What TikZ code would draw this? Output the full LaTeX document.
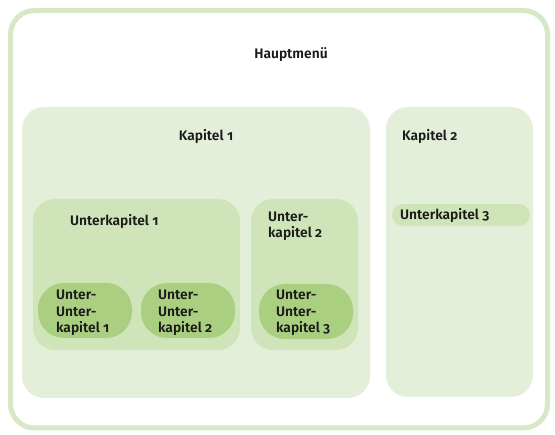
\documentclass[tikz,border=0pt]{standalone}
\usepackage{fontspec}
\setmainfont{Fira Sans}[Numbers=OldStyle,BoldFont={Fira Sans SemiBold}]
\definecolor{frame}{HTML}{D6E8C6}
\definecolor{kap}{HTML}{E4EFD9}
\definecolor{ukap}{HTML}{D0E4B9}
\definecolor{uukap}{HTML}{AACF80}
\definecolor{txt}{HTML}{1A1A1A}
\tikzset{
  box/.style={rounded corners=22pt},
  lbl/.style={anchor=west,inner sep=0pt,font=\bfseries\fontsize{13.8}{16.5}\selectfont,text=txt,align=left},
}
\begin{document}
\begin{tikzpicture}[x=1pt,y=-1pt]
\useasboundingbox (0,0) rectangle (555,435);
\fill[white] (0,0) rectangle (555,435);
\draw[frame,line width=5pt,rounded corners=24pt] (10.5,10.5) rectangle (547.5,428);
% Kapitel boxes
\fill[kap,box] (22,107) rectangle (370,398);
\fill[kap,box] (386,107) rectangle (533,397);
% Unterkapitel
\fill[ukap,box] (33,199) rectangle (240,350);
\fill[ukap,box] (251,199) rectangle (358,350);
\fill[ukap,rounded corners=11pt] (392,204) rectangle (530,226);
% Unter-Unterkapitel
\fill[uukap,rounded corners=26pt] (38,283) rectangle (132,338);
\fill[uukap,rounded corners=26pt] (141,283) rectangle (235,338);
\fill[uukap,rounded corners=26pt] (259,284) rectangle (353,339);
% Labels
\node[lbl,anchor=center] (haupt) at (291,55) {Hauptmenü};
\node[lbl,anchor=center] (k1) at (206,136) {Kapitel 1};
\node[lbl] (k2) at (402,136) {Kapitel 2};
\node[lbl] (u1) at (70,221) {Unterkapitel 1};
\node[lbl] (u2) at (268,226) {Unter-\\kapitel 2};
\node[lbl] (u3) at (400,215) {Unterkapitel 3};
\node[lbl] (uu1) at (56,313) {Unter-\\Unter-\\kapitel 1};
\node[lbl] (uu2) at (158,313) {Unter-\\Unter-\\kapitel 2};
\node[lbl] (uu3) at (276,313) {Unter-\\Unter-\\kapitel 3};
\end{tikzpicture}
\end{document}
